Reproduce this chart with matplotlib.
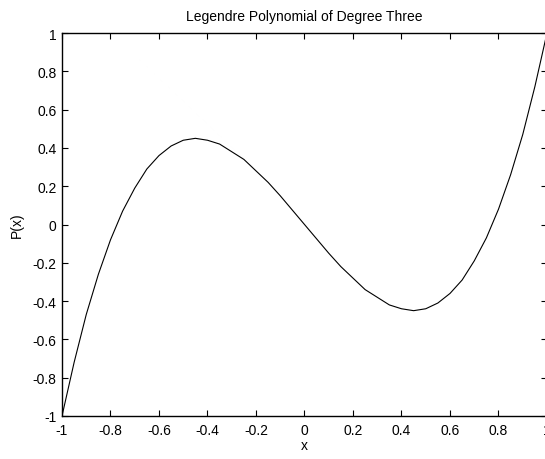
import matplotlib
matplotlib.use('Agg')
import matplotlib.pyplot as plt

# values
x = [-1.0, -0.95, -0.9, -0.85, -0.8, -0.75, -0.7, -0.65, -0.6, -0.55, -0.5,
     -0.45, -0.4, -0.35, -0.3, -0.25, -0.2, -0.15, -0.1, -0.05, 0.0,
     0.05, 0.1, 0.15, 0.2, 0.25, 0.3, 0.35, 0.4, 0.45, 0.5,
     0.55, 0.6, 0.65, 0.7, 0.75, 0.8, 0.85, 0.9, 0.95, 1.0]
y = [-1.0, -0.72, -0.47, -0.26, -0.08, 0.07, 0.19, 0.29, 0.36, 0.41, 0.44,
     0.45, 0.44, 0.42, 0.38, 0.34, 0.28, 0.22, 0.15, 0.075, 0.0,
     -0.075, -0.15, -0.22, -0.28, -0.34, -0.38, -0.42, -0.44, -0.45, -0.44,
     -0.41, -0.36, -0.29, -0.19, -0.07, 0.08, 0.26, 0.47, 0.72, 1.0]

xTicks = [-1, -0.8, -0.6, -0.4, -0.2, 0, 0.2, 0.4, 0.6, 0.8, 1]
yTicks = [-1, -0.8, -0.6, -0.4, -0.2, 0, 0.2, 0.4, 0.6, 0.8, 1]

plt.rcParams['font.family'] = ['Liberation Sans', 'DejaVu Sans']
fontSize = 10

fig = plt.figure(figsize=(5.45, 4.6), dpi=100)
ax = fig.add_axes([62/545, 1 - 417/460, 485/545, 383/460])

ax.plot(x, y, '-', color='black', linewidth=0.8)

ax.set_xlim(-1, 1)
ax.set_ylim(-1, 1)
ax.set_xticks(xTicks)
ax.set_yticks(yTicks)
ax.set_xticklabels(['%g' % v for v in xTicks], fontsize=fontSize)
ax.set_yticklabels(['%g' % v for v in yTicks], fontsize=fontSize)
ax.tick_params(axis='x', pad=5)
ax.tick_params(axis='y', pad=4)
ax.tick_params(direction='in', top=True, right=True, length=4, width=0.8)

for s in ax.spines.values():
  s.set_linewidth(1.0)

ax.set_title('Legendre Polynomial of Degree Three', fontsize=fontSize, pad=9)
ax.set_xlabel('x', fontsize=fontSize, labelpad=1)
ax.set_ylabel('P(x)', fontsize=fontSize, labelpad=6)

plt.savefig('out.png', dpi=100)
